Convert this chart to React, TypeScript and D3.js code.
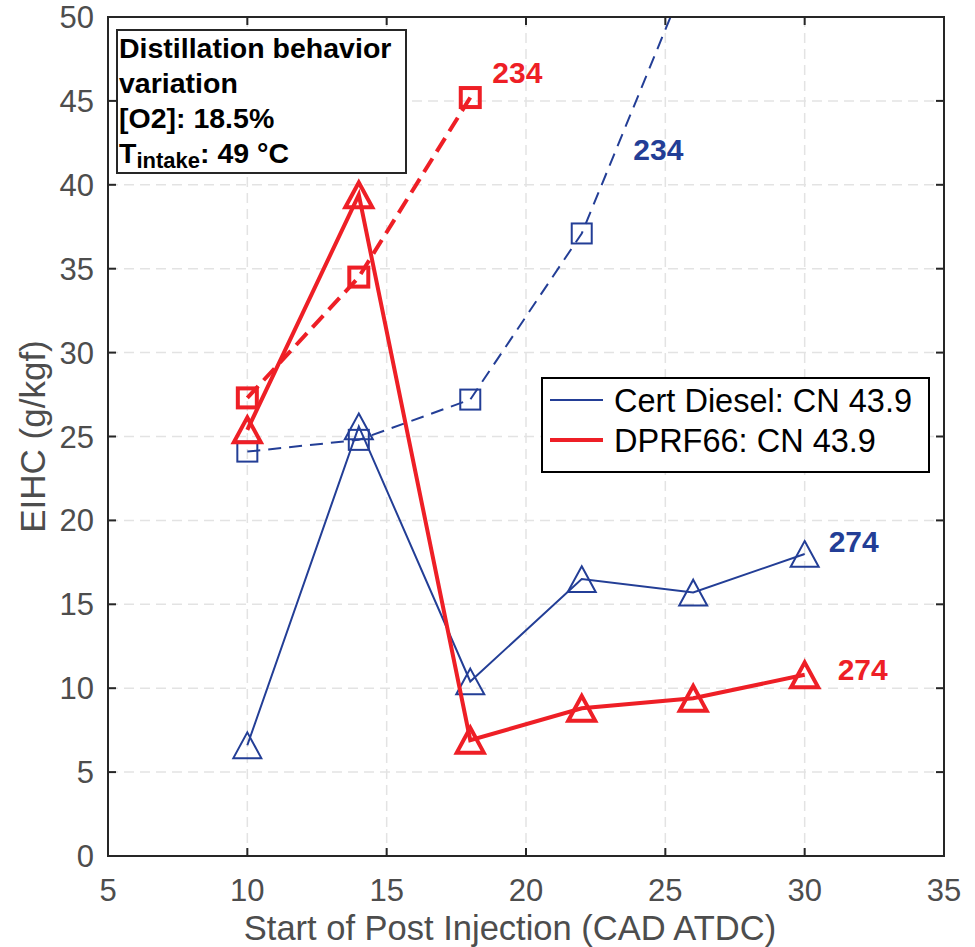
import * as d3 from "d3";

// Start of post injection (CAD ATDC)
const soiTri = [10, 14, 18, 22, 26, 30];
const certDiesel274 = [6.6, 25.6, 10.4, 16.5, 15.7, 18.0];
const dprf66_274 = [25.4, 39.4, 6.9, 8.8, 9.4, 10.8];

const soiCertSq = [10, 14, 18, 22, 26];
const certDiesel234 = [24.1, 24.8, 27.2, 37.1, 53.3];
const soiDprfSq = [10, 14, 18];
const dprf66_234 = [27.3, 34.5, 45.2];

const xTicks = [5, 10, 15, 20, 25, 30, 35];
const yTicks = [0, 5, 10, 15, 20, 25, 30, 35, 40, 45, 50];

const legendLabels = ["Cert Diesel: CN 43.9", "DPRF66: CN 43.9"];

const BLUE = "#233e96";
const RED = "#ee1f26";
const FONT = "'Liberation Sans', Arial, sans-serif";

const W = 975;
const H = 947;
const left = 108, right = 944, top = 17, bottom = 856;

function Triangle({ cx, cy, size, color, sw }) {
  const h = size * 0.92;
  const p = `${cx},${cy - h / 2} ${cx + size / 2},${cy + h / 2} ${cx - size / 2},${cy + h / 2}`;
  return <polygon points={p} fill="none" stroke={color} strokeWidth={sw} strokeLinejoin="miter" />;
}

function Square({ cx, cy, size, color, sw }) {
  return <rect x={cx - size / 2} y={cy - size / 2} width={size} height={size} fill="none" stroke={color} strokeWidth={sw} />;
}

const App = () => {
  const x = d3.scaleLinear().domain([5, 35]).range([left, right]);
  const y = d3.scaleLinear().domain([0, 50]).range([bottom, top]);

  const line = d3.line<[number, number]>()
    .x(d => x(d[0]))
    .y(d => y(d[1]));

  const zip = (xs, ys) => xs.map((v, i) => [v, ys[i]] as [number, number]);

  const certTri = zip(soiTri, certDiesel274);
  const dprfTri = zip(soiTri, dprf66_274);
  const certSq = zip(soiCertSq, certDiesel234);
  const dprfSq = zip(soiDprfSq, dprf66_234);

  const tickLen = 8;

  return (
    <svg width={W} height={H} style={{ position: "absolute", left: 0, top: 0, background: "#fff" }}
      fontFamily={FONT}>
      <defs>
        <clipPath id="plot">
          <rect x={left} y={top} width={right - left} height={bottom - top} />
        </clipPath>
      </defs>
      <rect width={W} height={H} fill="#fff" />

      {/* grid */}
      <g stroke="#e3e3e3" strokeWidth={1.5} strokeDasharray="10,6">
        {xTicks.slice(1, -1).map(t => (
          <line key={`gx${t}`} x1={x(t)} x2={x(t)} y1={top} y2={bottom} />
        ))}
        {yTicks.slice(1, -1).map(t => (
          <line key={`gy${t}`} x1={left} x2={right} y1={y(t)} y2={y(t)} />
        ))}
      </g>

      {/* series */}
      <g clipPath="url(#plot)">
        <path d={line(certSq)} fill="none" stroke={BLUE} strokeWidth={2} strokeDasharray="13,8" />
        <path d={line(certTri)} fill="none" stroke={BLUE} strokeWidth={2} />
        {certSq.map(([a, b]) => <Square key={`cs${a}`} cx={x(a)} cy={y(b)} size={20} color={BLUE} sw={2} />)}
        {certTri.map(([a, b]) => <Triangle key={`ct${a}`} cx={x(a)} cy={y(b)} size={28} color={BLUE} sw={2} />)}

        <path d={line(dprfSq)} fill="none" stroke={RED} strokeWidth={4} strokeDasharray="16,8" />
        <path d={line(dprfTri)} fill="none" stroke={RED} strokeWidth={4} />
        {dprfSq.map(([a, b]) => <Square key={`ds${a}`} cx={x(a)} cy={y(b)} size={19} color={RED} sw={4} />)}
        {dprfTri.map(([a, b]) => <Triangle key={`dt${a}`} cx={x(a)} cy={y(b)} size={27} color={RED} sw={4} />)}
      </g>

      {/* frame and ticks */}
      <g stroke="#262626" strokeWidth={2}>
        <rect x={left} y={top} width={right - left} height={bottom - top} fill="none" />
        {xTicks.slice(1, -1).map(t => (
          <g key={`tx${t}`}>
            <line x1={x(t)} x2={x(t)} y1={bottom} y2={bottom - tickLen} />
            <line x1={x(t)} x2={x(t)} y1={top} y2={top + tickLen} />
          </g>
        ))}
        {yTicks.slice(1, -1).map(t => (
          <g key={`ty${t}`}>
            <line x1={left} x2={left + tickLen} y1={y(t)} y2={y(t)} />
            <line x1={right} x2={right - tickLen} y1={y(t)} y2={y(t)} />
          </g>
        ))}
      </g>

      {/* tick labels */}
      <g fill="#4d4d4d" fontSize={31}>
        {xTicks.map(t => (
          <text key={`lx${t}`} x={x(t)} y={bottom + 45} textAnchor="middle">{t}</text>
        ))}
        {yTicks.map(t => (
          <text key={`ly${t}`} x={left - 14} y={y(t) + 11} textAnchor="end">{t}</text>
        ))}
      </g>

      {/* axis titles */}
      <text x={510} y={940} textAnchor="middle" fontSize={34.5} fill="#4d4d4d">
        Start of Post Injection (CAD ATDC)
      </text>
      <text transform={`translate(45, ${(top + bottom) / 2}) rotate(-90)`} textAnchor="middle"
        fontSize={35} fill="#4d4d4d">EIHC (g/kgf)</text>

      {/* annotation box */}
      <rect x={117} y={30} width={289} height={143} fill="#fff" stroke="#262626" strokeWidth={2} />
      <g fontSize={28.5} fontWeight="bold" fill="#000">
        <text x={119} y={58}>Distillation behavior</text>
        <text x={119} y={93}>variation</text>
        <text x={119} y={128}>[O2]: 18.5%</text>
        <text x={119} y={163}>T<tspan fontSize={22} dy={5}>intake</tspan><tspan dy={-5}>: 49 °C</tspan></text>
      </g>

      {/* series labels */}
      <g fontSize={30} fontWeight="bold">
        <text x={x(18) + 22} y={y(45.2) - 15} fill={RED}>234</text>
        <text x={x(23.85)} y={y(41.5)} fill={BLUE}>234</text>
        <text x={x(30) + 24} y={y(18.0) - 2} fill={BLUE}>274</text>
        <text x={x(30) + 33} y={y(10.8) + 5} fill={RED}>274</text>
      </g>

      {/* legend */}
      <rect x={542} y={378} width={387} height={94} fill="#fff" stroke="#000" strokeWidth={2} />
      <line x1={550} x2={603} y1={400} y2={400} stroke={BLUE} strokeWidth={2} />
      <line x1={550} x2={603} y1={440} y2={440} stroke={RED} strokeWidth={4} />
      <g fontSize={32.5} fill="#000">
        <text x={614} y={412}>{legendLabels[0]}</text>
        <text x={614} y={452}>{legendLabels[1]}</text>
      </g>
    </svg>
  );
};

export default App;
